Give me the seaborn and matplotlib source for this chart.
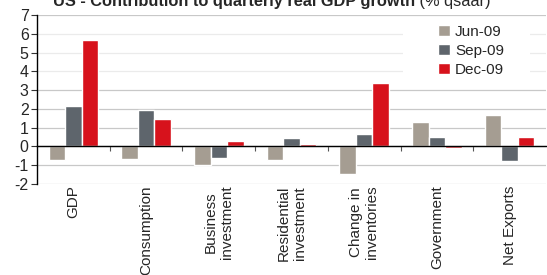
import numpy as np
import pandas as pd
import matplotlib
matplotlib.use("Agg")
import matplotlib.pyplot as plt
import seaborn as sns
from matplotlib.patches import Rectangle

categories = ["GDP", "Consumption", "Business\ninvestment", "Residential\ninvestment",
              "Change in\ninventories", "Government", "Net Exports"]
periods = ["Jun-09", "Sep-09", "Dec-09"]
jun09 = [-0.73, -0.68, -1.00, -0.73, -1.46, 1.29, 1.65]
sep09 = [2.14, 1.92, -0.59, 0.43, 0.65, 0.49, -0.77]
dec09 = [5.67, 1.46, 0.27, 0.12, 3.38, -0.08, 0.49]
colors = ["#a59d92", "#5e656c", "#d7121c"]
yticks = [-2, -1, 0, 1, 2, 3, 4, 5, 6, 7]

df = pd.DataFrame({
    "category": categories * 3,
    "period": [p for p in periods for _ in categories],
    "value": jun09 + sep09 + dec09,
})

sns.set_theme(style="white")
plt.rcParams["font.family"] = ["Liberation Sans", "DejaVu Sans"]

W, H = 547, 275
fig = plt.figure(figsize=(W / 100, H / 100), dpi=100)
ax = fig.add_axes([37 / W, 1 - 184 / H, (546 - 37) / W, (184 - 15) / H])

sns.barplot(data=df, x="category", y="value", hue="period", hue_order=periods,
            palette=colors, saturation=1, width=0.68, ax=ax, zorder=3, legend=True)

ax.set_ylim(-2, 7)
ax.set_xlim(-0.5, len(categories) - 0.5)
ax.set_yticks(yticks)
ax.set_yticklabels([str(v) for v in yticks], fontsize=11.5)
ax.set_xlabel("")
ax.set_ylabel("")

# grid
ax.yaxis.grid(True, color="#c8c8c8", linewidth=0.9, zorder=0)
ax.set_axisbelow(True)
for v, gl in zip(yticks, ax.get_ygridlines()):
    if v in (4, 5, 6):
        gl.set_color("#ebebeb")

# spines
for s in ["top", "right"]:
    ax.spines[s].set_visible(False)
ax.spines["left"].set_color("black")
ax.spines["left"].set_linewidth(1.0)
ax.spines["bottom"].set_position(("data", 0))
ax.spines["bottom"].set_color("black")
ax.spines["bottom"].set_linewidth(1.0)
ax.spines["bottom"].set_zorder(4)

ax.tick_params(axis="y", which="major", direction="out", length=4, width=0.8,
               color="#333333", pad=2, left=True)
ax.set_xticks(range(len(categories)))
ax.set_xticklabels(categories, rotation=90, fontsize=11, ha="center", va="top",
                   multialignment="center")
ax.tick_params(axis="x", which="major", length=0, pad=28)
ax.set_xticks(np.arange(0.5, len(categories) - 0.5, 1.0), minor=True)
ax.tick_params(axis="x", which="minor", direction="out", length=3.5, width=0.8,
               color="#555555", bottom=True)

# white area behind legend
ax.add_patch(Rectangle((403 / W, 1 - 80 / H), 127 / W, 63 / H,
                       transform=fig.transFigure, facecolor="white",
                       edgecolor="none", zorder=1.5, clip_on=False))

leg = ax.legend(loc="upper left", bbox_to_anchor=(435 / W, 1 - 22 / H),
                bbox_transform=fig.transFigure, frameon=False, fontsize=11,
                handlelength=0.75, handleheight=0.75, handletextpad=0.35,
                labelspacing=0.32, borderpad=0.2, borderaxespad=0)
leg.set_zorder(6)

t1 = fig.text(53 / W, 1 - 9 / H, "US - Contribution to quarterly real GDP growth",
              fontsize=11.8, fontweight="bold", ha="left", va="bottom")
ax.annotate(" (% qsaar)", xy=(1, 0), xycoords=t1, fontsize=11.8, ha="left", va="bottom",
            annotation_clip=False)

fig.savefig("out.png", dpi=100)
